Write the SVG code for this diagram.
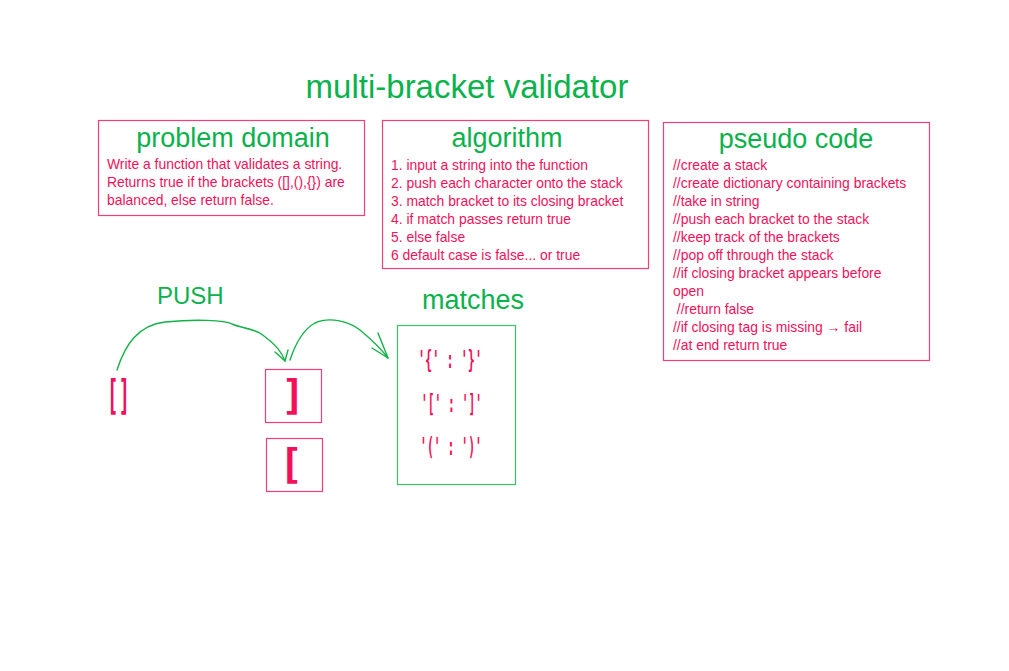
<svg xmlns="http://www.w3.org/2000/svg" width="1009" height="671" viewBox="0 0 1009 671">
<style>
.g{fill:#0ab24c;font-family:"Liberation Sans",Arial,sans-serif}
.r{fill:#f2105a;font-family:"Liberation Sans",Arial,sans-serif;font-size:13.9px}
.m{fill:#f2105a;font-family:"DejaVu Sans Mono","Liberation Mono",monospace}
.box{fill:none;stroke:#f0407a;stroke-width:1.2}
.gbox{fill:none;stroke:#3cc068;stroke-width:1.2}
.arr{fill:none;stroke:#12b248;stroke-width:1.4;stroke-linecap:round;stroke-linejoin:round}
</style>
<rect width="1009" height="671" fill="#ffffff"/>
<text class="g" x="467" y="98" font-size="33" text-anchor="middle">multi-bracket validator</text>

<g id="problem-domain">
<rect class="box" x="98.5" y="120.5" width="266" height="95"/>
<text class="g" x="233" y="147" font-size="27" text-anchor="middle">problem domain</text>
<text class="r" x="107" y="169">Write a function that validates a string.</text>
<text class="r" x="107" y="187">Returns true if the brackets ([],(),{}) are</text>
<text class="r" x="107" y="205">balanced, else return false.</text>
</g>

<g id="algorithm">
<rect class="box" x="382.5" y="120.5" width="266" height="148"/>
<text class="g" x="507" y="147" font-size="27" text-anchor="middle">algorithm</text>
<text class="r" x="391" y="170">1. input a string into the function</text>
<text class="r" x="391" y="188">2. push each character onto the stack</text>
<text class="r" x="391" y="206">3. match bracket to its closing bracket</text>
<text class="r" x="391" y="224">4. if match passes return true</text>
<text class="r" x="391" y="242">5. else false</text>
<text class="r" x="391" y="260">6 default case is false... or true</text>
</g>

<g id="pseudo-code">
<rect class="box" x="663.5" y="122.5" width="266" height="238"/>
<text class="g" x="796" y="148" font-size="27" text-anchor="middle">pseudo code</text>
<text class="r" x="673" y="170">//create a stack</text>
<text class="r" x="673" y="188">//create dictionary containing brackets</text>
<text class="r" x="673" y="206">//take in string</text>
<text class="r" x="673" y="224">//push each bracket to the stack</text>
<text class="r" x="673" y="242">//keep track of the brackets</text>
<text class="r" x="673" y="260">//pop off through the stack</text>
<text class="r" x="673" y="278">//if closing bracket appears before</text>
<text class="r" x="673" y="296">open</text>
<text class="r" x="673" y="314" xml:space="preserve"> //return false</text>
<text class="r" x="673" y="332">//if closing tag is missing → fail</text>
<text class="r" x="673" y="350">//at end return true</text>
</g>

<g id="push-label">
<text class="g" x="157" y="304" font-size="24">PUSH</text>
</g>

<g id="brackets-input">
<text class="m" x="107" y="409" font-size="40" font-weight="bold" textLength="23" lengthAdjust="spacingAndGlyphs">[]</text>
</g>

<g id="stack-top">
<rect class="box" x="265.5" y="369.5" width="56" height="53"/>
<text class="m" x="293" y="409" font-size="40" font-weight="bold" text-anchor="middle">]</text>
</g>

<g id="stack-bottom">
<rect class="box" x="266.5" y="438.5" width="56" height="53"/>
<text class="m" x="291" y="478" font-size="40" font-weight="bold" text-anchor="middle">[</text>
</g>

<g id="matches">
<text class="g" x="422" y="309" font-size="27">matches</text>
<rect class="gbox" x="397.5" y="325.5" width="118" height="159"/>
<text class="m" x="418" y="368" font-size="25" font-weight="bold" textLength="64" lengthAdjust="spacingAndGlyphs">'{' : '}'</text>
<text class="m" x="421" y="412" font-size="25" font-weight="bold" textLength="61" lengthAdjust="spacingAndGlyphs">'[' : ']'</text>
<text class="m" x="420" y="455" font-size="25" font-weight="bold" textLength="62" lengthAdjust="spacingAndGlyphs">'(' : ')'</text>
</g>

<g id="connectors">
<path class="arr" d="M117,370 C125,345 138,325 165,322 C195,319 225,320 232,324 C240,328 255,328 264,336 C275,344 282,352 285,361"/>
<path class="arr" d="M275,352 L285,361 L288,350"/>
<path class="arr" d="M290,360 C295,345 302,330 315,323 C330,316 350,322 360,330 C372,340 382,350 388,358"/>
<path class="arr" d="M372,348 L388,358 L378,333"/>
</g>
</svg>
